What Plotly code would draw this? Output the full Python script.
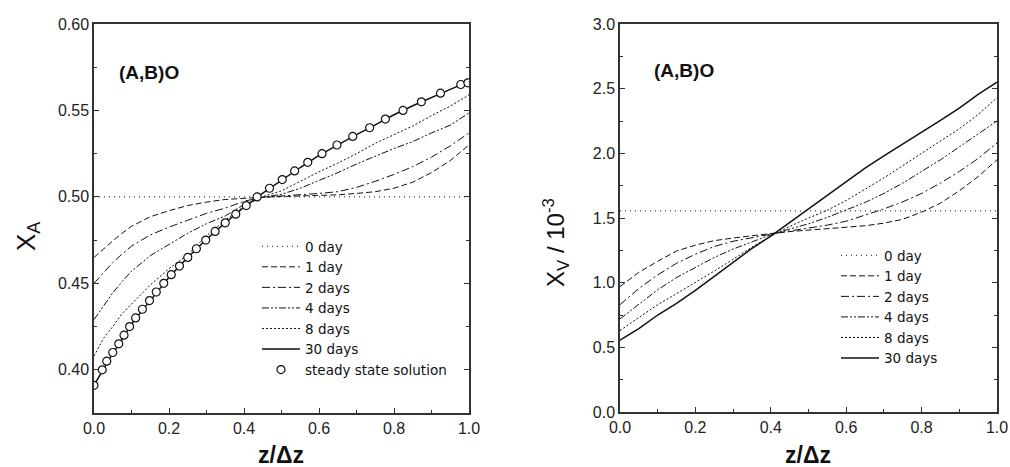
import plotly.graph_objects as go

# ---------------- data: left panel (X_A) ----------------
xa_x = [0, 0.025, 0.05, 0.075, 0.1, 0.15, 0.2, 0.25, 0.3, 0.35, 0.4, 0.45,
        0.5, 0.55, 0.6, 0.65, 0.7, 0.75, 0.8, 0.85, 0.9, 0.95, 1.0]
xa_0day = [0.50] * len(xa_x)
xa_1day = [0.465, 0.470, 0.4745, 0.479, 0.483, 0.4885, 0.492, 0.495, 0.497, 0.4985, 0.4993, 0.4998,
           0.5002, 0.5005, 0.5008, 0.5012, 0.502, 0.503, 0.505, 0.5085, 0.514, 0.521, 0.530]
xa_2days = [0.450, 0.456, 0.462, 0.467, 0.4715, 0.478, 0.4825, 0.4865, 0.4905, 0.4935, 0.4975, 0.4998,
            0.5005, 0.501, 0.502, 0.503, 0.5055, 0.509, 0.513, 0.5175, 0.523, 0.5295, 0.537]
xa_4days = [0.429, 0.437, 0.4445, 0.451, 0.457, 0.466, 0.4725, 0.479, 0.4845, 0.489, 0.4955, 0.4998,
            0.5015, 0.505, 0.5095, 0.514, 0.519, 0.5235, 0.528, 0.532, 0.537, 0.5415, 0.5485]
xa_8days = [0.408, 0.418, 0.425, 0.4325, 0.438, 0.449, 0.4585, 0.4665, 0.4775, 0.4865, 0.4945, 0.5002,
            0.5035, 0.509, 0.5145, 0.5195, 0.525, 0.531, 0.536, 0.541, 0.547, 0.5525, 0.559]
xa_30days = [0.391, 0.4005, 0.4095, 0.4175, 0.4265, 0.440, 0.4535, 0.465, 0.4755, 0.485, 0.494, 0.5022,
             0.5097, 0.517, 0.524, 0.5302, 0.536, 0.5417, 0.5475, 0.5527, 0.5576, 0.5622, 0.5668]
ss_x = [0, 0.022, 0.034, 0.05, 0.066, 0.08, 0.095, 0.111, 0.129, 0.148, 0.166, 0.186, 0.206, 0.228,
        0.25, 0.273, 0.298, 0.323, 0.35, 0.378, 0.406, 0.435, 0.468, 0.502, 0.535, 0.57, 0.608, 0.648,
        0.69, 0.735, 0.777, 0.824, 0.873, 0.924, 0.978, 0.997]
ss_y = [0.391, 0.400, 0.405, 0.410, 0.415, 0.420, 0.425, 0.430, 0.435, 0.440, 0.445, 0.450, 0.455, 0.460,
        0.465, 0.470, 0.475, 0.480, 0.485, 0.490, 0.495, 0.500, 0.505, 0.510, 0.515, 0.520, 0.525, 0.530,
        0.535, 0.540, 0.545, 0.550, 0.555, 0.560, 0.565, 0.566]

# ---------------- data: right panel (X_V / 1e-3) ----------------
xv_x = [0, 0.05, 0.1, 0.15, 0.2, 0.25, 0.3, 0.35, 0.4, 0.45, 0.5, 0.55, 0.6, 0.65, 0.7, 0.75,
        0.8, 0.85, 0.9, 0.95, 1.0]
xv_0day = [1.555] * len(xv_x)
xv_1day = [0.97, 1.08, 1.165, 1.245, 1.29, 1.325, 1.345, 1.365, 1.38, 1.395, 1.405, 1.415, 1.425,
           1.44, 1.46, 1.49, 1.545, 1.615, 1.71, 1.82, 1.95]
xv_2days = [0.83, 0.955, 1.06, 1.15, 1.22, 1.28, 1.32, 1.35, 1.375, 1.40, 1.42, 1.445, 1.475,
            1.52, 1.57, 1.625, 1.69, 1.77, 1.86, 1.96, 2.08]
xv_4days = [0.72, 0.835, 0.945, 1.04, 1.12, 1.195, 1.26, 1.315, 1.37, 1.415, 1.455, 1.505, 1.56,
            1.62, 1.69, 1.77, 1.86, 1.95, 2.05, 2.15, 2.25]
xv_8days = [0.63, 0.73, 0.83, 0.915, 1.0, 1.09, 1.18, 1.275, 1.36, 1.435, 1.50, 1.56, 1.635,
            1.72, 1.81, 1.905, 2.0, 2.095, 2.19, 2.30, 2.43]
xv_30days = [0.555, 0.645, 0.75, 0.84, 0.94, 1.05, 1.16, 1.265, 1.36, 1.465, 1.57, 1.68, 1.785,
             1.885, 1.98, 2.07, 2.16, 2.255, 2.35, 2.455, 2.55]

labels = ["0 day", "1 day", "2 days", "4 days", "8 days", "30 days"]
dashes = ["1px,4px", "6px,3px", "8px,3px,2px,3px", "7px,2px,2px,2px,2px,2px", "2px,2px", "solid"]
widths = [1, 1, 1, 1, 1, 1.5]

FONT = "Arial, 'Liberation Sans', sans-serif"
LEG_FONT = "'DejaVu Sans', Arial, sans-serif"
INK = "#111111"

fig = go.Figure()

left_series = [xa_0day, xa_1day, xa_2days, xa_4days, xa_8days, xa_30days]
for lab, ys, d, w in zip(labels, left_series, dashes, widths):
    fig.add_trace(go.Scatter(x=xa_x, y=ys, mode="lines", name=lab, xaxis="x", yaxis="y",
                             line=dict(color=INK, dash=d, width=w), legend="legend"))
fig.add_trace(go.Scatter(x=ss_x, y=ss_y, mode="markers", name="steady state solution",
                         xaxis="x", yaxis="y", legend="legend",
                         marker=dict(symbol="circle", size=8, color="white",
                                     line=dict(color=INK, width=1.2))))

right_series = [xv_0day, xv_1day, xv_2days, xv_4days, xv_8days, xv_30days]
for lab, ys, d, w in zip(labels, right_series, dashes, widths):
    fig.add_trace(go.Scatter(x=xv_x, y=ys, mode="lines", name=lab, xaxis="x2", yaxis="y2",
                             line=dict(color=INK, dash=d, width=w), legend="legend2"))

W, H = 1010, 467
def px_x(p):
    return p / W
def px_y(p):
    return (H - p) / H

axis_common = dict(showgrid=False, zeroline=False, showline=True, linecolor="#333", linewidth=1.5,
                   ticks="inside", ticklen=5, tickcolor="#333", tickwidth=1, automargin=False,
                   tickfont=dict(family=FONT, size=16, color="#222"))

fig.update_layout(
    width=W, height=H, margin=dict(l=0, r=0, t=0, b=0, autoexpand=False),
    paper_bgcolor="white", plot_bgcolor="white",
    xaxis=dict(domain=[px_x(94), px_x(469)], range=[0, 1], dtick=0.2, tickformat=".1f",
               mirror=True, minor=dict(ticks="inside", ticklen=3, dtick=0.1, tickcolor="#333"),
               anchor="y", **axis_common),
    yaxis=dict(domain=[px_y(413), px_y(24)], range=[0.375, 0.60], dtick=0.05, tickformat=".2f",
               tick0=0.40, mirror="ticks",
               minor=dict(ticks="inside", ticklen=3, dtick=0.025, tick0=0.375, tickcolor="#333"),
               anchor="x", **axis_common),
    xaxis2=dict(domain=[px_x(620), px_x(997)], range=[0, 1], dtick=0.2, tickformat=".1f",
                mirror=True, minor=dict(ticks="inside", ticklen=3, dtick=0.1, tickcolor="#333"),
                anchor="y2", **axis_common),
    yaxis2=dict(domain=[px_y(412), px_y(24)], range=[0, 3.0], dtick=0.5, tickformat=".1f",
                mirror="ticks", minor=dict(ticks="inside", ticklen=3, dtick=0.25, tickcolor="#333"),
                anchor="x2", **axis_common),
    legend=dict(x=px_x(257), y=px_y(231), xanchor="left", yanchor="top",
                font=dict(family=LEG_FONT, size=13.5, color=INK), bgcolor="rgba(0,0,0,0)",
                tracegroupgap=0, itemclick=False, itemwidth=38),
    legend2=dict(x=px_x(836), y=px_y(240), xanchor="left", yanchor="top",
                 font=dict(family=LEG_FONT, size=13.5, color=INK), bgcolor="rgba(0,0,0,0)",
                 tracegroupgap=0, itemclick=False, itemwidth=38),
    showlegend=True,
)

ann = []
ann.append(dict(text="<b>(A,B)O</b>", x=px_x(117), y=px_y(72), xref="paper", yref="paper",
                xanchor="left", yanchor="middle", showarrow=False,
                font=dict(family=FONT, size=19, color=INK)))
ann.append(dict(text="<b>(A,B)O</b>", x=px_x(652), y=px_y(70), xref="paper", yref="paper",
                xanchor="left", yanchor="middle", showarrow=False,
                font=dict(family=FONT, size=19, color=INK)))
ann.append(dict(text="<b>z/Δz</b>", x=px_x(281), y=px_y(455), xref="paper", yref="paper",
                xanchor="center", yanchor="middle", showarrow=False,
                font=dict(family=FONT, size=23, color=INK)))
ann.append(dict(text="<b>z/Δz</b>", x=px_x(808), y=px_y(455), xref="paper", yref="paper",
                xanchor="center", yanchor="middle", showarrow=False,
                font=dict(family=FONT, size=23, color=INK)))
ann.append(dict(text="X<sub>A</sub>", x=px_x(27), y=px_y(236), xref="paper", yref="paper",
                xanchor="center", yanchor="middle", showarrow=False, textangle=-90,
                font=dict(family=FONT, size=26, color=INK)))
ann.append(dict(text="X<sub>V</sub> / 10<sup>-3</sup>", x=px_x(556), y=px_y(243), xref="paper",
                yref="paper", xanchor="center", yanchor="middle", showarrow=False, textangle=-90,
                font=dict(family=FONT, size=24, color=INK)))
fig.update_layout(annotations=ann)

fig.write_html("out.html", config={"displayModeBar": False},
               post_script="document.body.style.margin='0';document.body.style.padding='0';"
                           "document.body.style.overflow='hidden';")
